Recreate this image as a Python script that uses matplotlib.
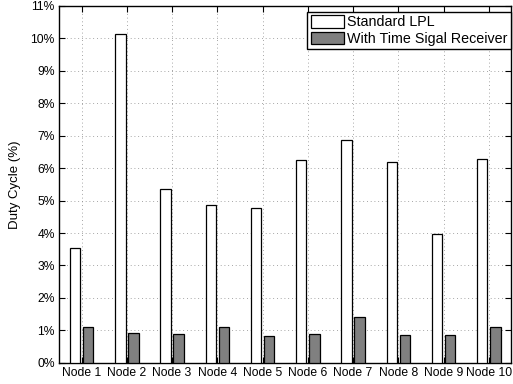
import numpy as np
import matplotlib
matplotlib.use('Agg')
from matplotlib import pyplot as plt
from matplotlib.ticker import FuncFormatter

plt.rcParams['font.family'] = ['Liberation Sans', 'DejaVu Sans']

nodes = ['Node 1', 'Node 2', 'Node 3', 'Node 4', 'Node 5',
         'Node 6', 'Node 7', 'Node 8', 'Node 9', 'Node 10']
standard_lpl = [3.53, 10.12, 5.37, 4.85, 4.76, 6.24, 6.85, 6.18, 3.98, 6.29]
time_signal = [1.09, 0.92, 0.88, 1.11, 0.83, 0.88, 1.42, 0.85, 0.85, 1.11]

x = np.arange(1, len(nodes) + 1)
w = 0.23

fig = plt.figure(figsize=(5.13, 3.84), dpi=100)
ax = fig.add_axes([0.115, 0.055, 0.882, 0.93])

ax.bar(x - 0.145, standard_lpl, w, color='white', edgecolor='black',
       linewidth=0.9, label='Standard LPL', zorder=3)
ax.bar(x + 0.145, time_signal, w, color='#808080', edgecolor='black',
       linewidth=0.9, label='With Time Sigal Receiver', zorder=3)

ax.set_xlim(0.5, 10.5)
ax.set_ylim(0, 11)
ax.set_xticks(x)
ax.set_xticklabels(nodes)
ax.set_yticks(np.arange(0, 12, 1))
ax.yaxis.set_major_formatter(FuncFormatter(lambda v, p: '%d%%' % v))
ax.set_ylabel('Duty Cycle (%)', fontsize=9.5, labelpad=7)

ax.grid(True, linestyle=(0, (1, 3.5)), color='#888888', linewidth=0.6, zorder=0)
ax.tick_params(direction='in', top=True, right=True, length=4,
               labelsize=8.7, width=0.8, pad=3)
for s in ax.spines.values():
    s.set_linewidth(1.0)

leg = ax.legend(loc='upper right', bbox_to_anchor=(1.0, 0.983),
                borderaxespad=0, fontsize=10.3, fancybox=False, framealpha=1,
                edgecolor='black', handlelength=2.3, handleheight=0.95,
                handletextpad=0.25, labelspacing=0.15, borderpad=0.25)
leg.get_frame().set_linewidth(1.0)

fig.savefig('out.png', dpi=100)
